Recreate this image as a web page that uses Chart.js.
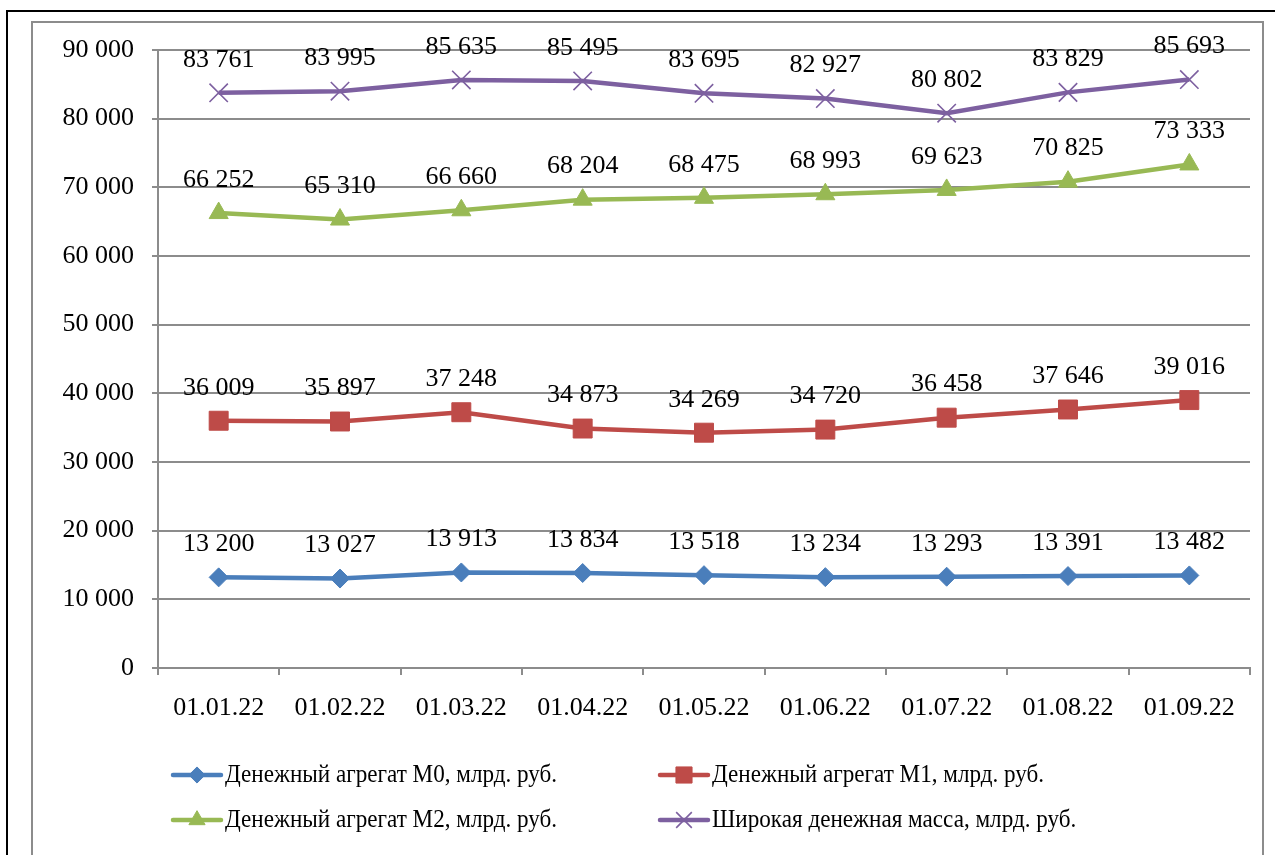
<!DOCTYPE html>
<html lang="ru">
<head>
<meta charset="utf-8">
<title>Денежные агрегаты</title>
<script src="https://cdn.jsdelivr.net/npm/chart.js@4.4.1/dist/chart.umd.min.js"></script>
<style>
  html, body { margin: 0; padding: 0; background: #fff; overflow: hidden; }
  #outer { position: absolute; left: 6px; top: 10px; width: 1300px; height: 900px; border: 2px solid #000; }
  #inner { position: absolute; left: 31px; top: 21px; width: 1229px; height: 900px; border: 2px solid #8c8c8c; }
  #chart { position: absolute; left: 0; top: 0; }
</style>
</head>
<body>
<div id="outer"></div>
<div id="inner"></div>
<canvas id="chart" width="1275" height="855"></canvas>
<script>
// данные
const dates = ['01.01.22', '01.02.22', '01.03.22', '01.04.22', '01.05.22', '01.06.22', '01.07.22', '01.08.22', '01.09.22'];
const m0 = [13200, 13027, 13913, 13834, 13518, 13234, 13293, 13391, 13482];
const m1 = [36009, 35897, 37248, 34873, 34269, 34720, 36458, 37646, 39016];
const m2 = [66252, 65310, 66660, 68204, 68475, 68993, 69623, 70825, 73333];
const broad = [83761, 83995, 85635, 85495, 83695, 82927, 80802, 83829, 85693];
const seriesNames = [
  'Денежный агрегат М0, млрд. руб.',
  'Денежный агрегат М1, млрд. руб.',
  'Денежный агрегат М2, млрд. руб.',
  'Широкая денежная масса, млрд. руб.'
];
const yMax = 90000;
const yStep = 10000;

const FONT = "'Liberation Serif', 'Times New Roman', serif";
const NUM_SIZE = 26;
const LEGEND_SIZE = 25;
const LEGEND_SQUEEZE = 0.925; // кириллица в оригинале уже
const fmt = v => String(v).replace(/\B(?=(\d{3})+(?!\d))/g, ' ');

const styles = [
  { color: '#4a7ebb', pointStyle: 'rectRot', radius: 9.5, bw: 1 },
  { color: '#be4b48', pointStyle: 'rect', radius: 13.4, bw: 1 },
  { color: '#98b954', pointStyle: 'triangle', radius: 11, bw: 1 },
  { color: '#7d60a0', pointStyle: 'crossRot', radius: 13, bw: 1.6 }
];

function makeSet(i, data) {
  const s = styles[i];
  return {
    label: seriesNames[i],
    data: data,
    borderColor: s.color,
    backgroundColor: s.color,
    borderWidth: 4.5,
    pointStyle: s.pointStyle,
    pointRadius: s.radius,
    pointHoverRadius: s.radius,
    pointBackgroundColor: s.color,
    pointBorderColor: s.color,
    pointBorderWidth: s.bw,
    tension: 0
  };
}

// подписи значений над точками
const valueLabels = {
  id: 'valueLabels',
  afterDatasetsDraw(chart) {
    const ctx = chart.ctx;
    ctx.save();
    ctx.font = NUM_SIZE + 'px ' + FONT;
    ctx.fillStyle = '#000';
    ctx.textAlign = 'center';
    ctx.textBaseline = 'middle';
    chart.data.datasets.forEach((ds, i) => {
      chart.getDatasetMeta(i).data.forEach((pt, j) => {
        ctx.fillText(fmt(ds.data[j]), pt.x, pt.y - 33);
      });
    });
    ctx.restore();
  }
};

// легенда: линия + маркер, две колонки
const lineLegend = {
  id: 'lineLegend',
  afterDraw(chart) {
    const ctx = chart.ctx;
    const cols = [173, 660];
    const rows = [775, 820];
    ctx.save();
    chart.data.datasets.forEach((ds, i) => {
      const s = styles[i];
      const x = cols[i % 2];
      const y = rows[Math.floor(i / 2)];
      ctx.strokeStyle = s.color;
      ctx.lineWidth = 4.5;
      ctx.lineCap = 'round';
      ctx.beginPath();
      ctx.moveTo(x, y);
      ctx.lineTo(x + 48, y);
      ctx.stroke();
      ctx.fillStyle = s.color;
      ctx.lineWidth = s.bw;
      ctx.lineCap = 'butt';
      Chart.helpers.drawPoint(ctx, { pointStyle: s.pointStyle, radius: s.radius * 0.85, borderWidth: s.bw, rotation: 0 }, x + 24, y);
      ctx.save();
      ctx.translate(x + 52, y);
      ctx.scale(LEGEND_SQUEEZE, 1);
      ctx.fillStyle = '#000';
      ctx.font = LEGEND_SIZE + 'px ' + FONT;
      ctx.textAlign = 'left';
      ctx.textBaseline = 'middle';
      ctx.fillText(ds.label, 0, 0);
      ctx.restore();
    });
    ctx.restore();
  }
};

new Chart(document.getElementById('chart'), {
  type: 'line',
  data: {
    labels: dates,
    datasets: [makeSet(0, m0), makeSet(1, m1), makeSet(2, m2), makeSet(3, broad)]
  },
  options: {
    responsive: false,
    animation: false,
    layout: { padding: { left: 0, top: 50, right: 25, bottom: 127 } },
    plugins: {
      legend: { display: false },
      tooltip: { enabled: false }
    },
    scales: {
      x: {
        offset: true,
        grid: { offset: true, drawOnChartArea: false, drawTicks: true, tickLength: 7, color: '#8c8c8c', lineWidth: 2 },
        border: { display: true, color: '#8c8c8c', width: 2 },
        ticks: { color: '#000', font: { family: FONT, size: NUM_SIZE }, padding: 18, maxRotation: 0 },
        afterFit(scale) { scale.height = 60; }
      },
      y: {
        min: 0,
        max: yMax,
        ticks: { stepSize: yStep, color: '#000', font: { family: FONT, size: NUM_SIZE }, padding: 18, callback: v => fmt(v) },
        grid: { color: '#8c8c8c', lineWidth: 2, tickLength: 6 },
        border: { display: true, color: '#8c8c8c', width: 2 },
        afterFit(scale) { scale.width = 158; }
      }
    }
  },
  plugins: [valueLabels, lineLegend]
});
</script>
</body>
</html>
